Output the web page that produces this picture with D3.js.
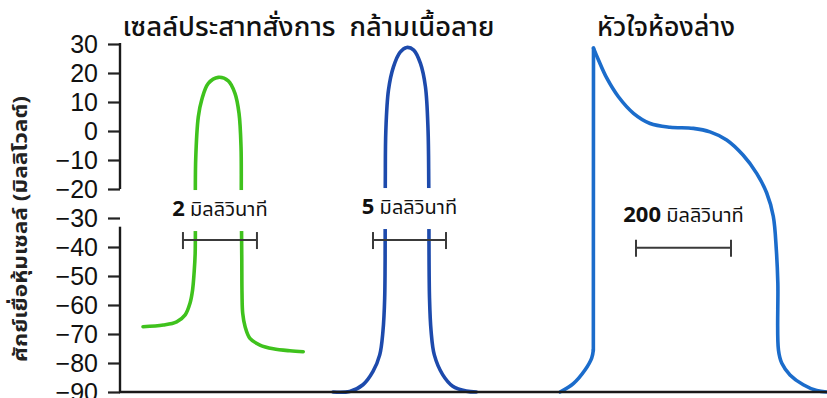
<!DOCTYPE html>
<html>
<head>
<meta charset="utf-8">
<script src="https://cdn.jsdelivr.net/npm/d3@7"></script>
<style>
  html, body { margin: 0; padding: 0; background: #fff; }
  svg { display: block; }
  .thai { font-family: "Noto Sans Thai", "Leelawadee UI", Tahoma, "Noto Sans", sans-serif; }
</style>
</head>
<body>
<svg id="chart" width="827" height="398"></svg>
<script>
// Voltage axis ticks (mV)
const yTicks = [30, 20, 10, 0, -10, -20, -30, -40, -50, -60, -70, -80, -90];

// Panel titles
const panelTitles = ["เซลล์ประสาทสั่งการ", "กล้ามเนื้อลาย", "หัวใจห้องล่าง"];
const yTitle = "ศักย์เยื่อหุ้มเซลล์ (มิลลิโวลต์)";
const msUnit = "มิลลิวินาที";

// Motor neuron action potential: time (ms), membrane potential (mV)
const neuronTime = [0, 0.55, 0.91, 1.14, 1.27, 1.34, 1.38, 1.41, 1.424, 1.495, 1.586, 1.765, 2.035, 2.305, 2.486, 2.595, 2.649, 2.657, 2.67, 2.676, 2.695, 2.76, 2.89, 3.16, 3.52, 3.97, 4.33];
const neuronVoltage = [-67.5, -66.9, -65.8, -63.4, -59.4, -54.8, -49.1, -42.2, -10.0, 4.9, 10.7, 16.4, 18.5, 17.3, 13.0, 6.1, -5.4, -23.8, -44.5, -56.0, -62.9, -67.5, -71.5, -73.8, -75.1, -75.8, -76.1];

// Skeletal muscle action potential
const skeletalTime = [0, 1.14, 2.05, 2.74, 3.20, 3.42, 3.54, 3.58, 3.62, 3.80, 4.14, 4.60, 5.05, 5.53, 5.99, 6.33, 6.51, 6.56, 6.61, 6.72, 6.94, 7.51, 8.20, 9.13, 9.82];
const skeletalVoltage = [-90, -89.8, -87.5, -82.9, -77.2, -69.1, -57.6, -19.3, 0.3, 14.1, 22.1, 27.2, 28.8, 27.9, 23.3, 15.3, 0.3, -19.3, -57.6, -69.1, -77.2, -84.0, -88.0, -89.7, -90];

// Ventricular muscle action potential
const cardiacTime = [0, 28, 52.6, 66.7, 70.2, 70.5, 81, 98.6, 123, 154.7, 189.7, 231.6, 280.7, 315.8, 350.9, 385.3, 414, 435, 449, 455.4, 458.6, 459.9, 467, 484.2, 512.2, 540.4, 561.3];
const cardiacVoltage = [-90, -87.1, -82.4, -78.3, -75.5, 28.6, 24.5, 18.2, 11.8, 6.1, 2.6, 1.3, 0.9, -0.3, -3.1, -8.3, -14.6, -21.3, -29.4, -40.9, -52.4, -75.5, -80.1, -84.1, -87.5, -89.5, -90];

// Time scale bars (ms)
const scaleBarMs = [2, 5, 200];

// ---- layout ----
const svg = d3.select("#chart");
const axisX = 120;
const y = d3.scaleLinear().domain([-90, 30]).range([392, 44]);

const xNeuron = d3.scaleLinear().domain([0, 1]).range([143, 180]);
const xSkeletal = d3.scaleLinear().domain([0, 1]).range([333, 347.6]);
const xCardiac = d3.scaleLinear().domain([0, 100]).range([560, 607.5]);

const panels = [
  { x: xNeuron, t: neuronTime, v: neuronVoltage, color: "#3fc21d", bar: scaleBarMs[0], barStart: 1.08, barV: -37.6, labelDy: 24, title: panelTitles[0], titleX: 229, titleW: 213, knock: true },
  { x: xSkeletal, t: skeletalTime, v: skeletalVoltage, color: "#1d4aac", bar: scaleBarMs[1], barStart: 2.74, barV: -37.6, labelDy: 26, title: panelTitles[1], titleX: 422, titleW: 145, knock: true },
  { x: xCardiac, t: cardiacTime, v: cardiacVoltage, color: "#1b6ccb", bar: scaleBarMs[2], barStart: 160, barV: -40.3, labelDy: 26, title: panelTitles[2], titleX: 666, titleW: 138, knock: false, sharpAt: [4, 5] }
];

const layerTraces = svg.append("g");
const layerAxis = svg.append("g");
const layerLabels = svg.append("g");
const layerTitles = svg.append("g");

// ---- axis ----
const axis = d3.axisLeft(y).tickValues(yTicks).tickSize(12).tickPadding(10)
  .tickFormat(d => d < 0 ? "\u2212" + Math.abs(d) : d);
const gAxis = layerAxis.append("g").attr("transform", `translate(${axisX},0)`).call(axis);
gAxis.select(".domain").remove();
gAxis.selectAll(".tick line").attr("stroke", "#222").attr("stroke-width", 2.2);
gAxis.selectAll(".tick text")
  .attr("fill", "#111")
  .style("font-family", "'Liberation Sans', Arial, sans-serif")
  .style("font-size", "25px");

// broken vertical axis + baseline
const axisColor = "#1a1a1a";
layerAxis.append("line").attr("x1", axisX).attr("x2", axisX).attr("y1", y(30) - 1).attr("y2", y(-20))
  .attr("stroke", axisColor).attr("stroke-width", 2.4);
layerAxis.append("line").attr("x1", axisX).attr("x2", axisX).attr("y1", y(-33)).attr("y2", y(-90))
  .attr("stroke", axisColor).attr("stroke-width", 2.4);
layerAxis.append("line").attr("x1", axisX - 1).attr("x2", 827).attr("y1", y(-90)).attr("y2", y(-90))
  .attr("stroke", axisColor).attr("stroke-width", 2.6);

// y title
layerTitles.append("text").attr("class", "thai")
  .attr("transform", `translate(27,229) rotate(-90)`)
  .attr("text-anchor", "middle")
  .attr("font-size", 20).attr("font-weight", "bold").attr("fill", "#222")
  .attr("textLength", 266).attr("lengthAdjust", "spacingAndGlyphs")
  .text(yTitle);

// ---- traces ----
const smooth = d3.line().curve(d3.curveCatmullRom.alpha(0.5));
const straight = d3.line();
panels.forEach(p => {
  const pts = p.t.map((t, i) => [p.x(t), y(p.v[i])]);
  const pieces = [];
  if (p.sharpAt) {
    const [a, b] = p.sharpAt;
    pieces.push(smooth(pts.slice(0, a + 1)), straight(pts.slice(a, b + 1)), smooth(pts.slice(b)));
  } else {
    pieces.push(smooth(pts));
  }
  pieces.forEach(d => layerTraces.append("path").attr("d", d)
    .attr("fill", "none").attr("stroke", p.color).attr("stroke-width", 3.6)
    .attr("stroke-linecap", "round").attr("stroke-linejoin", "round"));
});

// ---- scale bars + labels ----
panels.forEach(p => {
  const x0 = p.x(p.barStart), x1 = p.x(p.barStart + p.bar), yb = y(p.barV);
  const g = layerLabels.append("g");
  const back = g.append("rect").attr("fill", "#fff");
  const label = g.append("text").attr("class", "thai")
    .attr("x", (x0 + x1) / 2).attr("y", yb - p.labelDy)
    .attr("text-anchor", "middle").attr("fill", "#111");
  label.append("tspan").attr("font-weight", "bold").attr("font-size", 22).text(p.bar);
  label.append("tspan").attr("font-size", 20).text(" " + msUnit);
  if (p.knock) {
    const bb = label.node().getBBox();
    back.attr("x", bb.x - 4).attr("y", bb.y - 3).attr("width", bb.width + 8).attr("height", bb.height + 8);
  } else {
    back.remove();
  }
  const bar = g.append("g").attr("stroke", "#3a3a3a").attr("stroke-width", 2);
  bar.append("line").attr("x1", x0).attr("x2", x1).attr("y1", yb).attr("y2", yb);
  bar.append("line").attr("x1", x0).attr("x2", x0).attr("y1", yb - 8).attr("y2", yb + 9);
  bar.append("line").attr("x1", x1).attr("x2", x1).attr("y1", yb - 8).attr("y2", yb + 9);
});

// ---- panel titles ----
panels.forEach(p => {
  layerTitles.append("text").attr("class", "thai")
    .attr("x", p.titleX).attr("y", 36)
    .attr("text-anchor", "middle").attr("font-size", 26).attr("font-weight", 500).attr("fill", "#111")
    .attr("textLength", p.titleW).attr("lengthAdjust", "spacingAndGlyphs")
    .text(p.title);
});
</script>
</body>
</html>
